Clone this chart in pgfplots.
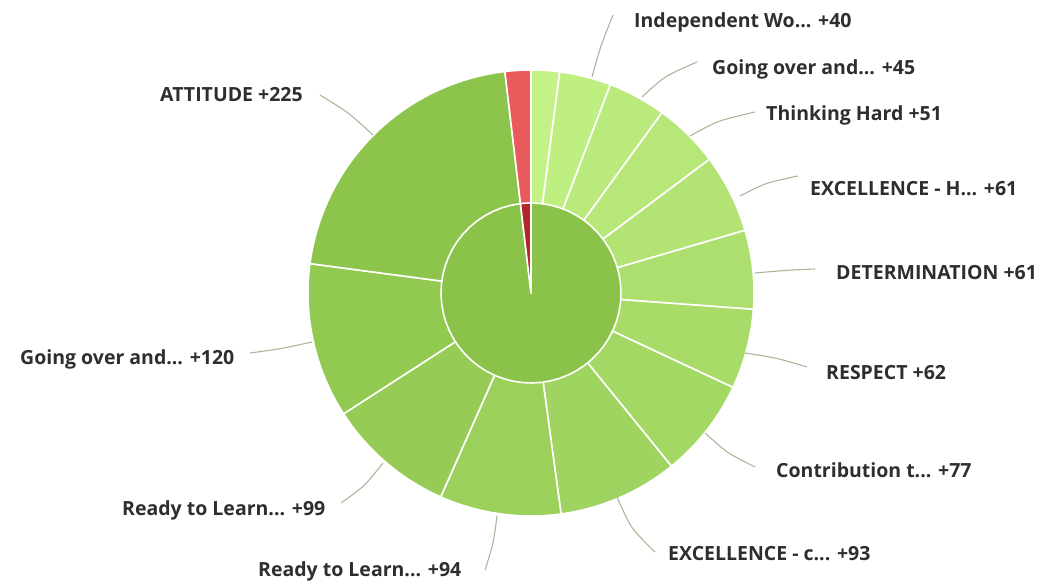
\documentclass[border=0pt]{standalone}
\usepackage{pgfplots}
\pgfplotsset{compat=1.18}
\usepackage{fontspec}
\setmainfont{Open Sans}
\definecolor{lgA}{HTML}{C4F286}
\definecolor{lgB}{HTML}{8BC34A}
\definecolor{innerg}{HTML}{8BC34A}
\definecolor{redo}{HTML}{E85A5C}
\definecolor{redi}{HTML}{B0282C}
\definecolor{txt}{HTML}{2E2E2E}
\definecolor{lead}{HTML}{A9B79A}
\def\cx{531}\def\cy{292}
\def\T{1070}
\def\cum{0}
\newcommand\slice[3]{%
  \pgfmathsetmacro\sa{\cum/\T*360}%
  \pgfmathsetmacro\newcum{\cum+#1}%
  \pgfmathsetmacro\sb{\newcum/\T*360}%
  \xdef\cum{\newcum}%
  \edef\tmp{\noexpand\addplot[fill=#2, draw=white, line width=1.6pt, line join=round, mark=none, domain=\sa:\sb, samples=60, variable=\noexpand\t] ({\cx+#3*sin(\noexpand\t)},{\cy+#3*cos(\noexpand\t)}) -- (axis cs:\cx,\cy) -- cycle;}%
  \tmp}
\newcommand\lab[3]{\node[anchor=base west, text=txt, font=\fontsize{19.5}{22}\selectfont\bfseries, inner sep=0pt] at (axis cs:#1,#2) {#3};}
\begin{document}
\begin{tikzpicture}
\path[use as bounding box] (0,0) rectangle (1040pt,585pt);
\begin{axis}[anchor=south west, at={(0,0)}, x=1pt, y=1pt, xmin=0, xmax=1040, ymin=0, ymax=585, hide axis, clip=false]
% outer ring (values, clockwise from top)
\slice{22}{lgA!100!lgB}{223}
\slice{40}{lgA!92!lgB}{223}
\slice{45}{lgA!84!lgB}{223}
\slice{51}{lgA!76!lgB}{223}
\slice{61}{lgA!68!lgB}{223}
\slice{61}{lgA!60!lgB}{223}
\slice{62}{lgA!52!lgB}{223}
\slice{77}{lgA!44!lgB}{223}
\slice{93}{lgA!36!lgB}{223}
\slice{94}{lgA!28!lgB}{223}
\slice{99}{lgA!20!lgB}{223}
\slice{120}{lgA!12!lgB}{223}
\slice{225}{lgA!4!lgB}{223}
\slice{20}{redo}{223}
% inner pie
\xdef\cum{0}
\slice{1050}{innerg}{90}
\slice{20}{redi}{90}
% leader lines (pixel coordinates, y measured upward)
\addplot[lead, line width=1.1pt, smooth, mark=none] coordinates {(592,508) (601,539) (613,570)};
\addplot[lead, line width=1.1pt, smooth, mark=none] coordinates {(642,488) (665.5,508) (697,523)};
\addplot[lead, line width=1.1pt, smooth, mark=none] coordinates {(690,449) (718.5,463.5) (755,473)};
\addplot[lead, line width=1.1pt, smooth, mark=none] coordinates {(740,389) (766.5,401.5) (798,409)};
\addplot[lead, line width=1.1pt, smooth, mark=none] coordinates {(755,312) (785,314.5) (815,316)};
\addplot[lead, line width=1.1pt, smooth, mark=none] coordinates {(745,232) (777,226.5) (807,218)};
\addplot[lead, line width=1.1pt, smooth, mark=none] coordinates {(705,152) (728,132.5) (755,118)};
\addplot[lead, line width=1.1pt, smooth, mark=none] coordinates {(617,88) (632,57.5) (655,33)};
\addplot[lead, line width=1.1pt, smooth, mark=none] coordinates {(497,69) (493,42) (485,15)};
\addplot[lead, line width=1.1pt, smooth, mark=none] coordinates {(383,122) (364,99.5) (341,82)};
\addplot[lead, line width=1.1pt, smooth, mark=none] coordinates {(312,243) (281,236.5) (250,232)};
\addplot[lead, line width=1.1pt, smooth, mark=none] coordinates {(373,450) (348,472) (320,490)};
% labels
\lab{634}{557.5}{Independent Wo... +40}
\lab{712}{510.5}{Going over and... +45}
\lab{766}{464.5}{Thinking Hard +51}
\lab{810}{389.5}{EXCELLENCE - H... +61}
\lab{836}{305.5}{DETERMINATION +61}
\lab{826}{205.5}{RESPECT +62}
\lab{776}{107.5}{Contribution t... +77}
\lab{668}{24}{EXCELLENCE - c... +93}
\lab{258}{8}{Ready to Learn... +94}
\lab{122}{69.5}{Ready to Learn... +99}
\lab{20}{220.5}{Going over and... +120}
\lab{160}{483}{ATTITUDE +225}
\end{axis}
\end{tikzpicture}
\end{document}
